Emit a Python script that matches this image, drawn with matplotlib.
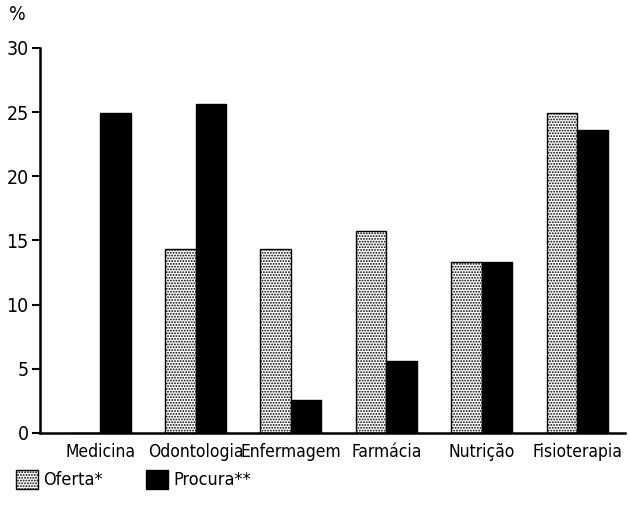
import matplotlib
matplotlib.use("Agg")
import matplotlib.pyplot as plt
import numpy as np

categories = ["Medicina", "Odontologia", "Enfermagem", "Farmácia", "Nutrição", "Fisioterapia"]
oferta = [0.0, 14.3, 14.3, 15.7, 13.3, 24.9]
procura = [24.9, 25.6, 2.6, 5.6, 13.3, 23.6]
yticks = [0, 5, 10, 15, 20, 25, 30]

plt.rcParams["font.family"] = ["DejaVu Sans"]
plt.rcParams["font.stretch"] = "condensed"
plt.rcParams["hatch.linewidth"] = 0.9

fig = plt.figure(figsize=(6.31, 5.16), dpi=100)
ax = fig.add_axes([0.063, 0.161, 0.927, 0.746])

x = np.arange(len(categories))
w = 0.32
ax.bar(x - w / 2, oferta, w, facecolor="white", edgecolor="black", hatch="......",
       linewidth=1.0, label="Oferta*")
ax.bar(x + w / 2, procura, w, color="black", edgecolor="black", linewidth=1.0,
       label="Procura**")

ax.set_xlim(-0.635, 5.5)
ax.set_ylim(0, 30)
ax.set_yticks(yticks)
ax.set_xticks(x)
ax.set_xticklabels(categories, fontsize=12.5)
ax.tick_params(axis="x", length=0, pad=7)
ax.tick_params(axis="y", labelsize=14, length=6, width=1.5, direction="out", pad=2)
for s in ["top", "right"]:
    ax.spines[s].set_visible(False)
ax.spines["left"].set_linewidth(1.8)
ax.spines["bottom"].set_linewidth(1.8)

fig.text(0.015, 0.972, "%", fontsize=14, va="center", ha="left")

fig.legend(loc="lower left", bbox_to_anchor=(0.0, 0.02), ncol=2, frameon=False,
           fontsize=13, handlelength=1.2, handleheight=1.2, handletextpad=0.3,
           columnspacing=2.4)

fig.savefig("out.png", dpi=100)
